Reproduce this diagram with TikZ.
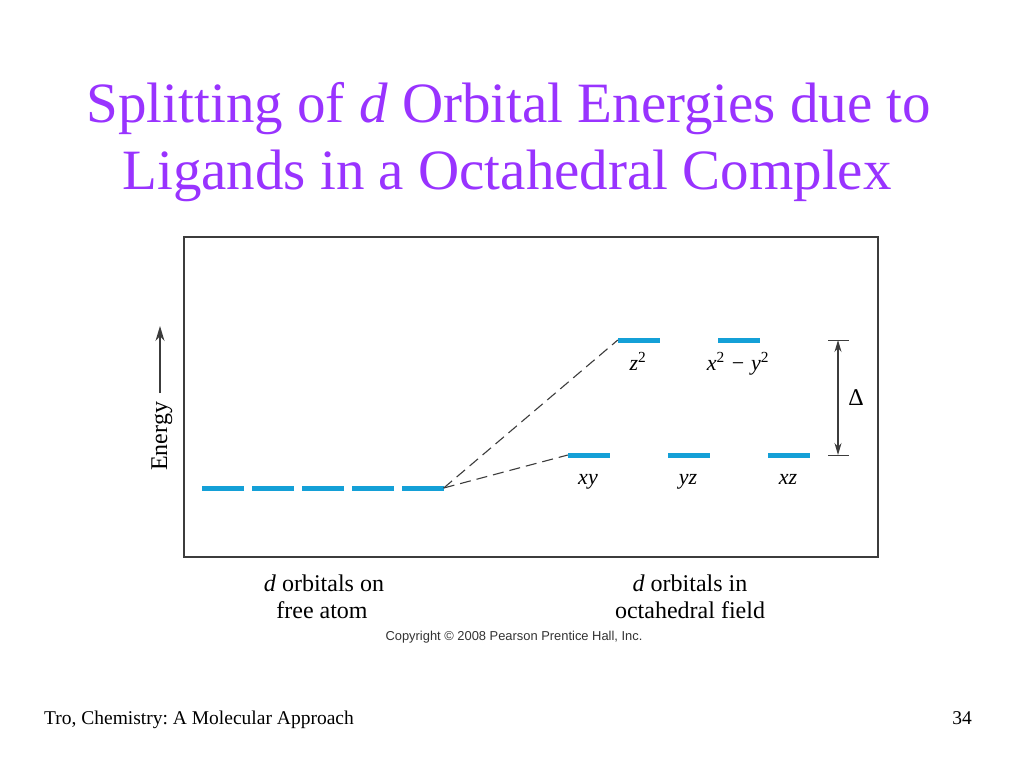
\documentclass[tikz,border=0pt]{standalone}
\usepackage{fontspec}
\setmainfont{Liberation Serif}
\newfontfamily\arialfont{Liberation Sans}
\usetikzlibrary{arrows.meta,calc}
\definecolor{titlepurple}{RGB}{153,51,255}
\definecolor{orbblue}{RGB}{20,160,215}
\definecolor{framegray}{RGB}{60,60,60}
\frenchspacing
\tikzset{
  orb/.style={fill=orbblue,draw=none,inner sep=0pt,minimum width=42pt,minimum height=5pt},
  olabel/.style={inner sep=0pt,anchor=base,font=\fontsize{22}{25}\selectfont\itshape},
  blabel/.style={inner sep=0pt,anchor=base,font=\fontsize{24}{28}\selectfont},
  split/.style={draw=framegray,dash pattern=on 11pt off 6pt,line width=1.1pt},
  titletext/.style={inner sep=0pt,anchor=base,text=titlepurple,font=\fontsize{57}{64}\selectfont},
  energyarrow/.style={framegray,line width=1.2pt,-{Stealth[length=15pt,width=9pt]}},
  deltaarrow/.style={framegray,line width=1.1pt,{Stealth[length=12pt,width=7pt]}-{Stealth[length=12pt,width=7pt]}}
}
\newcommand{\supr}[1]{\textsuperscript{\upshape #1}}
\begin{document}
\begin{tikzpicture}[x=1pt,y=-1pt]
\useasboundingbox[fill=white] (0,0) rectangle (1024,768);
% title
\node[titletext] (t1) at (509,122) {Splitting of \textit{d} Orbital Energies due to};
\node[titletext] (t2) at (507,189) {Ligands in a Octahedral Complex};
% frame
\draw[framegray,line width=2pt] (184,237) rectangle (878,557);
% energy axis
\node[inner sep=0pt,rotate=90,anchor=base west,font=\fontsize{24}{26}\selectfont] (en) at (167,471) {Energy};
\coordinate (ea1) at (160,393);
\coordinate (ea2) at (160,326);
\draw[energyarrow] (ea1) -- (ea2);
% free atom orbitals
\node[orb] (f1) at (222.5,488) {};
\node[orb] (f2) at (272.5,488) {};
\node[orb] (f3) at (322.5,488) {};
\node[orb] (f4) at (372.5,488) {};
\node[orb] (f5) at (422.5,488) {};
% octahedral orbitals
\node[orb] (z2) at (639,340) {};
\node[orb] (x2y2) at (739,340) {};
\node[orb] (xy) at (589,455) {};
\node[orb] (yz) at (689,455) {};
\node[orb] (xz) at (789,455) {};
% labels
\node[olabel] (lz2) at (638,370) {z\supr{2}};
\node[olabel] (lx2y2) at (738,370) {x\supr{2}\hspace{7pt}\upshape−\hspace{7pt}\itshape y\supr{2}};
\node[olabel] (lxy) at (588,484) {xy};
\node[olabel] (lyz) at (688,484) {yz};
\node[olabel] (lxz) at (788,484) {xz};
% splitting lines
\draw[split] (f5.east) -- (z2.west);
\draw[split] (f5.east) -- (xy.west);
% delta
\coordinate (dt) at (838,340);
\coordinate (db) at (838,455);
\draw[framegray,line width=1pt] ($(dt)+(-10,0)$) -- ($(dt)+(11,0)$);
\draw[framegray,line width=1pt] ($(db)+(-10,0)$) -- ($(db)+(11,0)$);
\draw[deltaarrow] (dt) -- (db);
\node[inner sep=0pt,font=\fontsize{24}{28}\selectfont] (delta) at (856,398) {Δ};
% bottom labels
\node[blabel] (b1a) at (324,591) {\textit{d} orbitals on};
\node[blabel] (b1b) at (322,618) {free atom};
\node[blabel] (b2a) at (690,591) {\textit{d} orbitals in};
\node[blabel] (b2b) at (690,618) {octahedral field};
\node[inner sep=0pt,anchor=base,font=\arialfont\fontsize{12.9}{14}\selectfont,text=black!80] (copy) at (514,640) {Copyright \textcopyright\ 2008 Pearson Prentice Hall, Inc.};
% footer
\node[inner sep=0pt,anchor=base west,font=\fontsize{19.5}{24}\selectfont] (foot) at (44,724) {Tro, Chemistry: A Molecular Approach};
\node[inner sep=0pt,anchor=base,font=\fontsize{19.5}{24}\selectfont] (page) at (962,724) {34};
\end{tikzpicture}
\end{document}
